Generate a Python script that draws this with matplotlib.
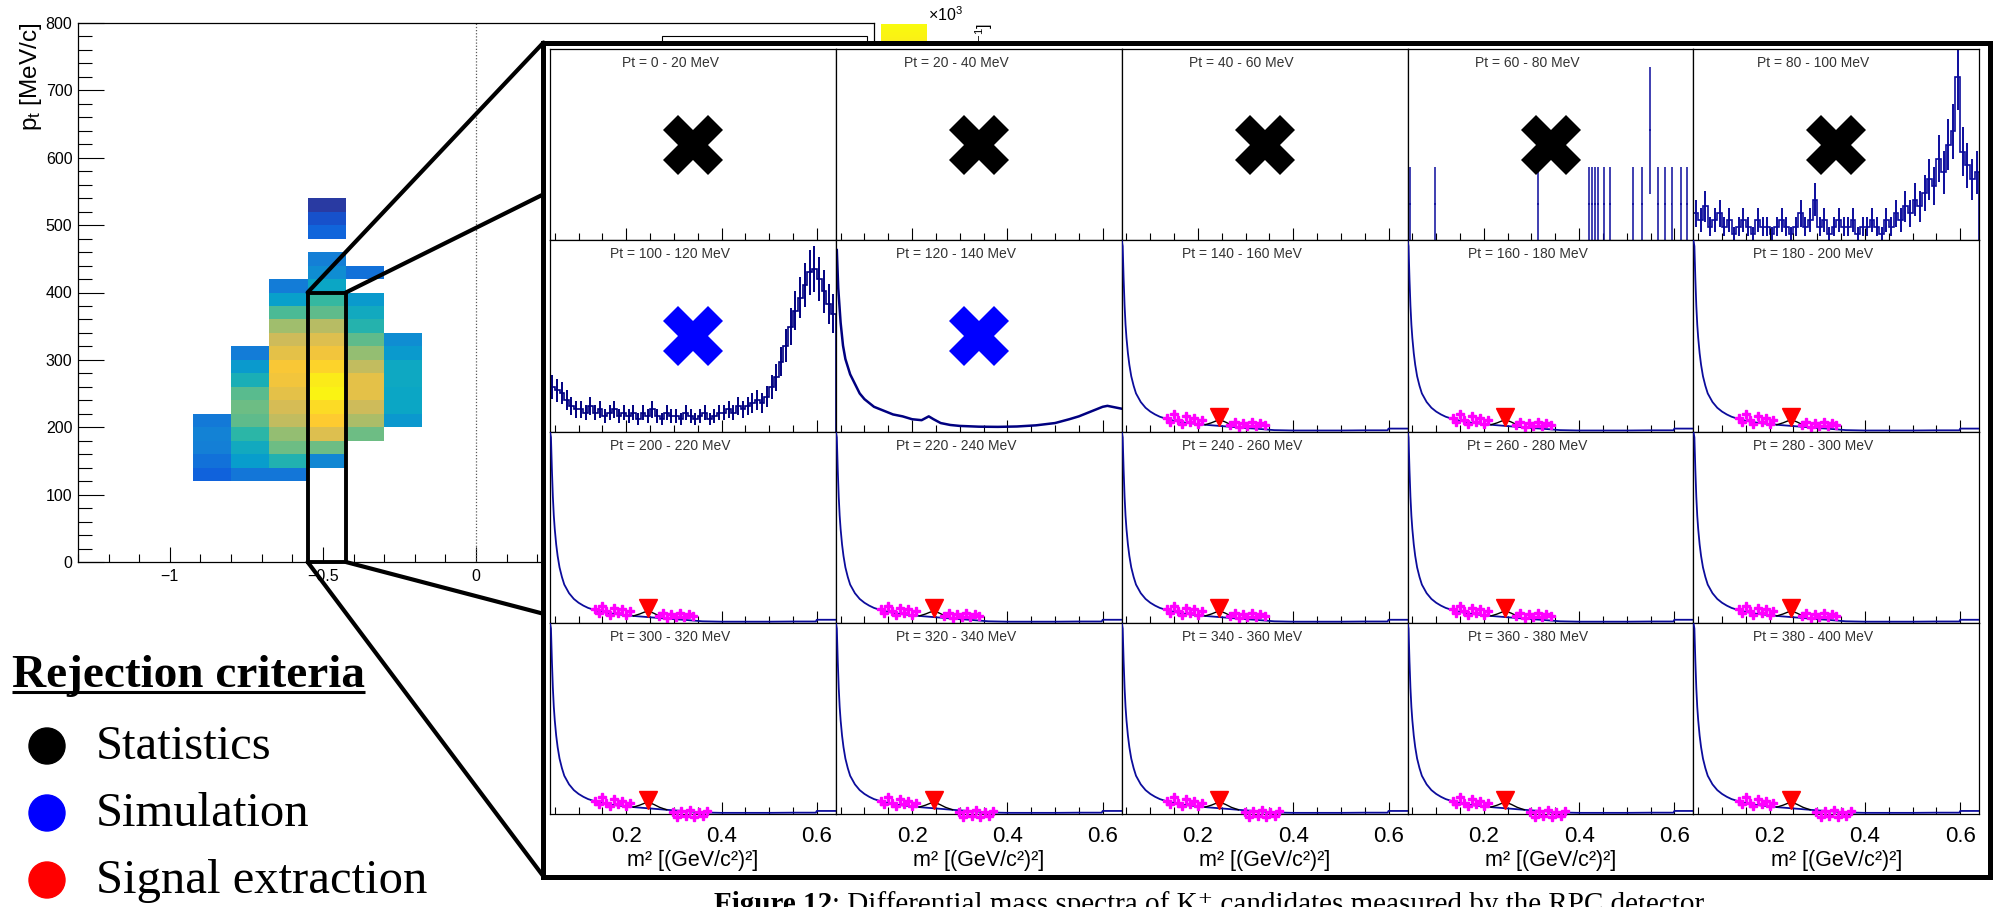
import numpy as np
import matplotlib
matplotlib.use('Agg')
import matplotlib.pyplot as plt
from matplotlib.colors import LinearSegmentedColormap
from matplotlib.patches import Rectangle, Circle, ConnectionPatch
from matplotlib.ticker import MultipleLocator, FuncFormatter

plt.rcParams['font.family'] = ['Liberation Sans', 'DejaVu Sans']
plt.rcParams['mathtext.default'] = 'regular'

W, H = 1999, 907

# ---- 2D map: rapidity vs pt (counts, x10^3) ----
rap_edges = [-0.925, -0.8, -0.675, -0.55, -0.425, -0.3, -0.175]
pt_edges = list(range(120, 560, 20))

# (low edge of first pt bin, values going up in pt) per rapidity column
col_m0925 = (120, [1.5, 2.0, 2.5, 2.6, 2.3])
col_m0800 = (120, [2.2, 3.6, 4.2, 5.0, 5.8, 6.0, 5.7, 4.5, 3.5, 2.4])
col_m0675 = (120, [2.2, 4.7, 6.0, 6.6, 7.4, 7.8, 8.2, 8.6, 8.8, 8.2, 7.6, 6.8, 5.5, 3.7, 2.4])
col_m0550 = (140, [2.8, 6.0, 8.0, 9.0, 9.4, 10.0, 9.8, 9.2, 8.6, 8.0, 7.2, 5.8, 5.2, 4.0, 3.0, 2.5])
col_m0550_hi = (480, [1.6, 1.0, 0.4])
col_m0425 = (180, [6.0, 7.0, 7.6, 8.2, 8.2, 7.4, 6.6, 5.8, 4.8, 4.2, 3.5])
col_m0425_hi = (420, [2.0])
col_m0300 = (200, [3.4, 4.0, 4.0, 4.1, 4.1, 3.5, 3.0])

# selected rapidity slice that is zoomed into
sel_rap = (-0.55, -0.425)
sel_pt = (0, 400)

# ---- m2 spectra (panel height normalised to 1) ----
pt_lows = list(range(0, 400, 20))
reject = ['stat'] * 5 + ['sim'] * 2 + ['ok'] * 13

# typical spectrum for the accepted bins
spec_x = [0.040, 0.042, 0.044, 0.046, 0.048, 0.050, 0.053, 0.056, 0.060, 0.065, 0.070,
          0.080, 0.090, 0.100, 0.110, 0.120, 0.135, 0.150, 0.165, 0.180, 0.200, 0.220,
          0.240, 0.260, 0.280, 0.300, 0.320, 0.340, 0.360, 0.400, 0.450, 0.500, 0.550,
          0.598, 0.600, 0.640]
spec_y = [1.00, 0.97, 0.80, 0.66, 0.56, 0.49, 0.41, 0.35, 0.29, 0.24, 0.20,
          0.155, 0.125, 0.105, 0.090, 0.078, 0.066, 0.057, 0.050, 0.045, 0.040, 0.035,
          0.031, 0.027, 0.023, 0.019, 0.016, 0.012, 0.008, 0.006, 0.006, 0.006, 0.007,
          0.007, 0.016, 0.016]
fit_x = [0.215, 0.228, 0.238, 0.248, 0.258, 0.270, 0.285]
fit_y = [0.036, 0.046, 0.056, 0.060, 0.050, 0.035, 0.022]
mag_left_x = [0.135, 0.142, 0.150, 0.158, 0.166, 0.175, 0.183, 0.192, 0.200, 0.208]
mag_left_y = [0.07, 0.05, 0.09, 0.06, 0.04, 0.08, 0.05, 0.07, 0.04, 0.06]
mag_right_x = [0.268, 0.277, 0.286, 0.295, 0.304, 0.313, 0.322, 0.331, 0.340]
mag_right_y = [0.035, 0.050, 0.025, 0.045, 0.030, 0.050, 0.030, 0.045, 0.035]
mag_right4_x = [0.298, 0.307, 0.316, 0.325, 0.334, 0.343, 0.352, 0.361, 0.370]
mag_right4_y = [0.010, -0.015, 0.015, -0.010, 0.020, -0.015, 0.010, -0.010, 0.015]
peak_x, peak_y = 0.245, 0.075

# pt 60-80: only a few filled bins
spike_x = [0.046, 0.097, 0.313, 0.421, 0.427, 0.433, 0.439, 0.453, 0.464, 0.513, 0.532,
           0.548, 0.566, 0.580, 0.594, 0.613, 0.627]
spike_n = [1, 1, 1, 1, 1, 1, 1, 1, 1, 1, 1, 3, 1, 1, 1, 1, 1]

# 0.01 wide bins from 0.04 to 0.64
bin_edges = [round(0.04 + 0.01 * k, 2) for k in range(61)]
counts_80 = [4, 3, 5, 2, 3, 4, 2, 3, 1, 2, 3, 2, 1, 3, 2, 2, 1, 2, 3, 2, 1, 2, 4, 2, 3, 6,
             2, 3, 1, 2, 3, 2, 2, 3, 1, 2, 2, 3, 2, 1, 3, 2, 4, 3, 5, 4, 6, 5, 7, 9, 8,
             12, 10, 14, 16, 24, 13, 11, 9, 10]
counts_100 = [14, 13, 12, 10, 8, 7, 7, 6, 8, 6, 7, 5, 6, 7, 5, 6, 5, 6, 4, 6, 5, 7, 5, 4,
              6, 5, 5, 4, 6, 5, 4, 5, 6, 4, 5, 6, 6, 7, 6, 8, 7, 8, 9, 10, 9, 11, 14, 17,
              22, 27, 33, 38, 42, 46, 50, 51, 48, 44, 40, 37]
spec120_x = [0.042, 0.045, 0.050, 0.055, 0.060, 0.070, 0.080, 0.090, 0.100, 0.120, 0.140,
             0.160, 0.180, 0.200, 0.220, 0.235, 0.245, 0.260, 0.280, 0.300, 0.340, 0.380,
             0.420, 0.460, 0.500, 0.530, 0.550, 0.570, 0.590, 0.600, 0.610, 0.620, 0.630,
             0.640]
spec120_y = [0.95, 0.75, 0.57, 0.45, 0.38, 0.30, 0.25, 0.20, 0.17, 0.13, 0.11,
             0.09, 0.08, 0.065, 0.06, 0.08, 0.065, 0.045, 0.035, 0.030, 0.026, 0.025,
             0.027, 0.033, 0.045, 0.065, 0.080, 0.100, 0.120, 0.130, 0.135, 0.130, 0.125,
             0.120]

legend_items = [('Statistics', 'black'), ('Simulation', '#0000ff'), ('Signal extraction', '#ff0000')]

NAVY = '#0c0c9c'

# ROOT kBird palette
stops = [0.0, 0.125, 0.25, 0.375, 0.5, 0.625, 0.75, 0.875, 1.0]
red = [0.2082, 0.0592, 0.0780, 0.0232, 0.1802, 0.5301, 0.8186, 0.9956, 0.9764]
green = [0.1664, 0.3599, 0.5041, 0.6419, 0.7178, 0.7492, 0.7328, 0.7862, 0.9832]
blue = [0.5293, 0.8684, 0.8385, 0.7914, 0.6425, 0.4662, 0.3499, 0.1968, 0.0539]
kbird = LinearSegmentedColormap.from_list('kbird', list(zip(stops, zip(red, green, blue))))


def fig_rect(x0, y0, x1, y1):
    return [x0 / W, 1 - y1 / H, (x1 - x0) / W, (y1 - y0) / H]


fig = plt.figure(figsize=(W / 100, H / 100), dpi=100)

# ---------------- 2D map ----------------
ax2d = fig.add_axes(fig_rect(78, 23, 874, 562), zorder=0)
Z = np.full((len(pt_edges) - 1, len(rap_edges) - 1), np.nan)
for ci, (start, vals) in [(0, col_m0925), (1, col_m0800), (2, col_m0675), (3, col_m0550),
                          (3, col_m0550_hi), (4, col_m0425), (4, col_m0425_hi), (5, col_m0300)]:
    r0 = (start - pt_edges[0]) // 20
    Z[r0:r0 + len(vals), ci] = vals
mesh = ax2d.pcolormesh(rap_edges, pt_edges, np.ma.masked_invalid(Z), cmap=kbird, vmin=0, vmax=10.2)
ax2d.set_xlim(-1.3, 1.3)
ax2d.set_ylim(0, 800)
ax2d.axvline(0, color='0.35', ls=(0, (1, 1.5)), lw=0.9)
ax2d.xaxis.set_major_locator(MultipleLocator(0.5))
ax2d.xaxis.set_minor_locator(MultipleLocator(0.1))
ax2d.yaxis.set_major_locator(MultipleLocator(100))
ax2d.yaxis.set_minor_locator(MultipleLocator(20))
ax2d.xaxis.set_major_formatter(FuncFormatter(lambda v, p: f'{v:g}'.replace('-', '\u2212')))
ax2d.tick_params(axis='x', which='major', direction='in', length=10.5, width=0.8, labelsize=11.5, pad=5)
ax2d.tick_params(axis='x', which='minor', direction='in', length=5.5, width=0.8)
ax2d.tick_params(axis='y', which='major', direction='in', length=19, width=0.8, labelsize=11.5, pad=4)
ax2d.tick_params(axis='y', which='minor', direction='in', length=10, width=0.8)
for s in ax2d.spines.values():
    s.set_linewidth(0.9)
ax2d.set_ylabel('p$_{t}$ [MeV/c]', fontsize=17.5, loc='top')
ax2d.yaxis.set_label_coords(-0.043, 1.0)
ax2d.add_patch(Rectangle((0.734, 0.70), 0.257, 0.276, transform=ax2d.transAxes,
                         facecolor='white', edgecolor='black', lw=0.8, zorder=5))
ax2d.add_patch(Rectangle((sel_rap[0], sel_pt[0]), sel_rap[1] - sel_rap[0], sel_pt[1] - sel_pt[0],
                         fill=False, edgecolor='black', lw=2.8, zorder=8, clip_on=False))

ax_cb = fig.add_axes(fig_rect(881, 24, 927, 562), zorder=0)
cb = fig.colorbar(mesh, cax=ax_cb)
cb.set_ticks([])
cb.outline.set_visible(False)
# z title: only its top end shows above the inset
fig.text(984 / W, 1 - 23 / H, '[c$^{-1}$]', rotation=90, ha='center', va='top',
         fontsize=11.5, zorder=1)

# ---------------- inset frame with the m2 spectra ----------------
frame = fig.add_axes(fig_rect(543.5, 42.5, 1989.5, 876.5), zorder=5)
frame.set_xticks([])
frame.set_yticks([])
for s in frame.spines.values():
    s.set_linewidth(3.6)

for xyA, xyB in [((sel_rap[0], sel_pt[1]), (0, 1)), ((sel_rap[1], sel_pt[1]), (0, 0.818)),
                 ((sel_rap[0], sel_pt[0]), (0, 0)), ((sel_rap[1], sel_pt[0]), (0, 0.315))]:
    con = ConnectionPatch(xyA=xyA, coordsA=ax2d.transData, xyB=xyB, coordsB=frame.transAxes,
                          color='black', lw=3.0, zorder=3)
    con.set_clip_on(False)
    fig.add_artist(con)

P_L, P_R, P_T, P_B = 550, 1979.3, 49.3, 814
cw = (P_R - P_L) / 5
rh = (P_B - P_T) / 4

for i, lo in enumerate(pt_lows):
    r, c = divmod(i, 5)
    ax = fig.add_axes(fig_rect(P_L + c * cw, P_T + r * rh, P_L + (c + 1) * cw, P_T + (r + 1) * rh), zorder=6)
    ax.set_xlim(0.04, 0.64)
    ax.set_ylim(0, 1)
    for s in ax.spines.values():
        s.set_linewidth(0.9)
    ax.xaxis.set_major_locator(MultipleLocator(0.2))
    ax.xaxis.set_minor_locator(MultipleLocator(0.05))
    ax.tick_params(axis='x', which='major', direction='in', length=8.5, width=0.8, labelsize=16, pad=8.5)
    ax.tick_params(axis='x', which='minor', direction='in', length=5, width=0.8)
    ax.tick_params(axis='y', which='both', left=False, labelleft=False)
    if r < 3:
        ax.tick_params(axis='x', labelbottom=False)
    else:
        ax.xaxis.set_major_formatter(FuncFormatter(lambda v, p: f'{v:.1f}'))
        ax.set_xlabel('m² [(GeV/c²)²]', fontsize=15.5, labelpad=2.5)

    ax.text(0.42, 0.927, f'Pt = {lo} - {lo + 20} MeV', transform=ax.transAxes, ha='center',
            va='center', fontsize=10, color='#333333')

    if i == 3:
        n = np.array(spike_n, dtype=float)
        ax.errorbar(spike_x, n / 5.2, yerr=np.sqrt(n) / 5.2, xerr=0.002, fmt='none',
                    ecolor=NAVY, elinewidth=1.1)
    elif i == 4:
        n = np.array(counts_80, dtype=float)
        centers = 0.5 * (np.array(bin_edges[:-1]) + np.array(bin_edges[1:]))
        ax.stairs(n / 28, bin_edges, color=NAVY, lw=1.2)
        ax.errorbar(centers, n / 28, yerr=np.sqrt(n) / 28, fmt='none', ecolor=NAVY, elinewidth=1.4)
    elif i == 5:
        n = np.array(counts_100, dtype=float)
        centers = 0.5 * (np.array(bin_edges[:-1]) + np.array(bin_edges[1:]))
        ax.stairs(n / 60, bin_edges, color='#000080', lw=1.2)
        ax.errorbar(centers, n / 60, yerr=np.sqrt(n) / 60, fmt='none', ecolor='#000080', elinewidth=1.4)
    elif i == 6:
        ax.plot(spec120_x, spec120_y, color='#000080', lw=1.8)
    elif i > 6:
        ax.plot(spec_x, spec_y, color=NAVY, lw=1.3, zorder=3)
        ax.plot(fit_x, fit_y, color='black', lw=1.0, zorder=4)
        if r == 3:
            mx, my = mag_right4_x, mag_right4_y
        else:
            mx, my = mag_right_x, mag_right_y
        ax.plot(mag_left_x + mx, mag_left_y + my, ls='none', marker='P', ms=5.5,
                color='#ff00ff', mec='#ff00ff', zorder=5, clip_on=False)
        ax.plot([peak_x], [peak_y], ls='none', marker='v', ms=13, color='#ff0000', zorder=6)

    if reject[i] == 'stat':
        ax.plot([0.34], [0.5], marker='X', ms=43, color='black', mew=0, zorder=10)
    elif reject[i] == 'sim':
        ax.plot([0.34], [0.5], marker='X', ms=43, color='#0000ff', mew=0, zorder=10)

# ---------------- legend and caption (pixel coordinates) ----------------
ov = fig.add_axes([0, 0, 1, 1], zorder=20)
ov.set_xlim(0, W)
ov.set_ylim(H, 0)
ov.axis('off')

ov.text(928, 21, '×10$^{3}$', fontsize=11.5, va='baseline', ha='left')

serif = ['Liberation Serif', 'DejaVu Serif']
t0 = ov.text(12, 687, 'Rejection criteria', family=serif, fontweight='bold', fontsize=34, va='baseline')
fig.canvas.draw()
bb0 = t0.get_window_extent()
x_rc = ov.transData.inverted().transform((bb0.x1, bb0.y0))[0]
ov.plot([12, x_rc], [692, 692], color='black', lw=2.2, solid_capstyle='butt')
for k, (label, col) in enumerate(legend_items):
    yc = 746 + k * 67
    ov.add_patch(Circle((47, yc), 18, color=col))
    ov.text(96, yc + 1, label, family=serif, fontsize=35, va='center', ha='left')

t1 = ov.text(714, 912, 'Figure 12', family=serif, fontweight='bold', fontsize=21, va='baseline')
fig.canvas.draw()
bb = t1.get_window_extent()
x_end = ov.transData.inverted().transform((bb.x1, bb.y0))[0]
ov.text(x_end, 912, ': Differential mass spectra of K\u207a candidates measured by the RPC detector.',
        family=serif, fontsize=21, va='baseline')

fig.savefig('out.png', dpi=100)
